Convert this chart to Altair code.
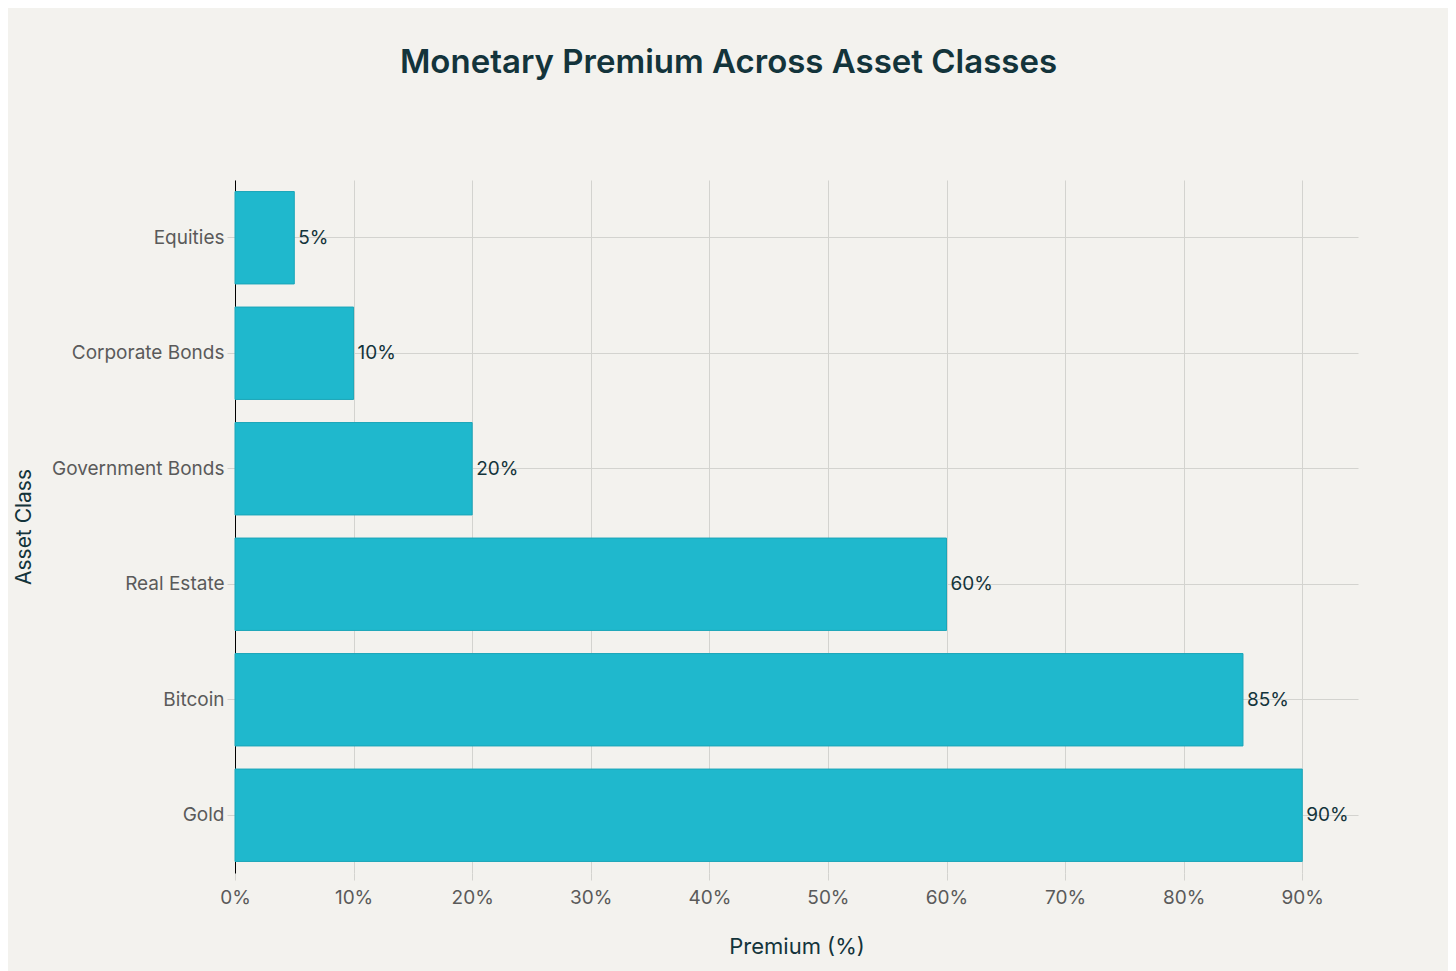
import altair as alt
import pandas as pd

categories = ["Equities", "Corporate Bonds", "Government Bonds", "Real Estate", "Bitcoin", "Gold"]
premium = [5, 10, 20, 60, 85, 90]
labels = ["5%", "10%", "20%", "60%", "85%", "90%"]

df = pd.DataFrame({"Asset Class": categories, "Premium": premium, "Label": labels})

FONT = "Inter"
BAR = "#1FB8CD"

y_enc = alt.Y(
    "Asset Class:N",
    sort=categories,
    scale=alt.Scale(paddingInner=0.2, paddingOuter=0.1),
    axis=alt.Axis(
        title="Asset Class",
        titleFontSize=21, titleFont=FONT, titleFontWeight="normal", titleColor="#13343B",
        titlePadding=17,
        labelFontSize=19, labelFont=FONT, labelColor="#5a5a5a", labelPadding=3,
        tickSize=8, tickColor="#d3d3cf",
        domainColor="#000000", domainWidth=1,
        grid=True, gridColor="#d3d3cf", gridWidth=1,
    ),
)

x_enc = alt.X(
    "Premium:Q",
    scale=alt.Scale(domain=[0, 94.7], nice=False, zero=True),
    axis=alt.Axis(
        title="Premium (%)",
        values=[0, 10, 20, 30, 40, 50, 60, 70, 80, 90],
        labelExpr="datum.value + '%'",
        labelFlush=False,
        titleFontSize=22, titleFont=FONT, titleFontWeight="normal", titleColor="#13343B",
        titlePadding=29,
        labelFontSize=19, labelFont=FONT, labelColor="#5a5a5a", labelPadding=8,
        tickSize=7, tickColor="#d3d3cf",
        domain=False,
        grid=True, gridColor="#d3d3cf", gridWidth=1,
    ),
)

bars = alt.Chart(df).mark_bar(color=BAR, stroke="#1aa5b8", strokeWidth=1).encode(y=y_enc, x=x_enc)
text = alt.Chart(df).mark_text(
    align="left", baseline="middle", dx=4, fontSize=19, font=FONT, color="#13343B"
).encode(y=alt.Y("Asset Class:N", sort=categories), x="Premium:Q", text="Label:N")

chart = (
    alt.layer(bars, text)
    .properties(
        width=1123,
        height=693,
        background="#F3F2EE",
        padding={"left": 227, "top": 172, "right": 90, "bottom": 98},
        autosize=alt.AutoSizeParams(type="none"),
        title=alt.TitleParams(
            "Monetary Premium Across Asset Classes",
            fontSize=33, font=FONT, fontWeight=600, color="#13343B",
            anchor="middle", dx=-68, offset=100,
        ),
    )
    .configure_view(stroke=None)
)

chart.save("out.html", embed_options={"renderer": "svg", "actions": False})
